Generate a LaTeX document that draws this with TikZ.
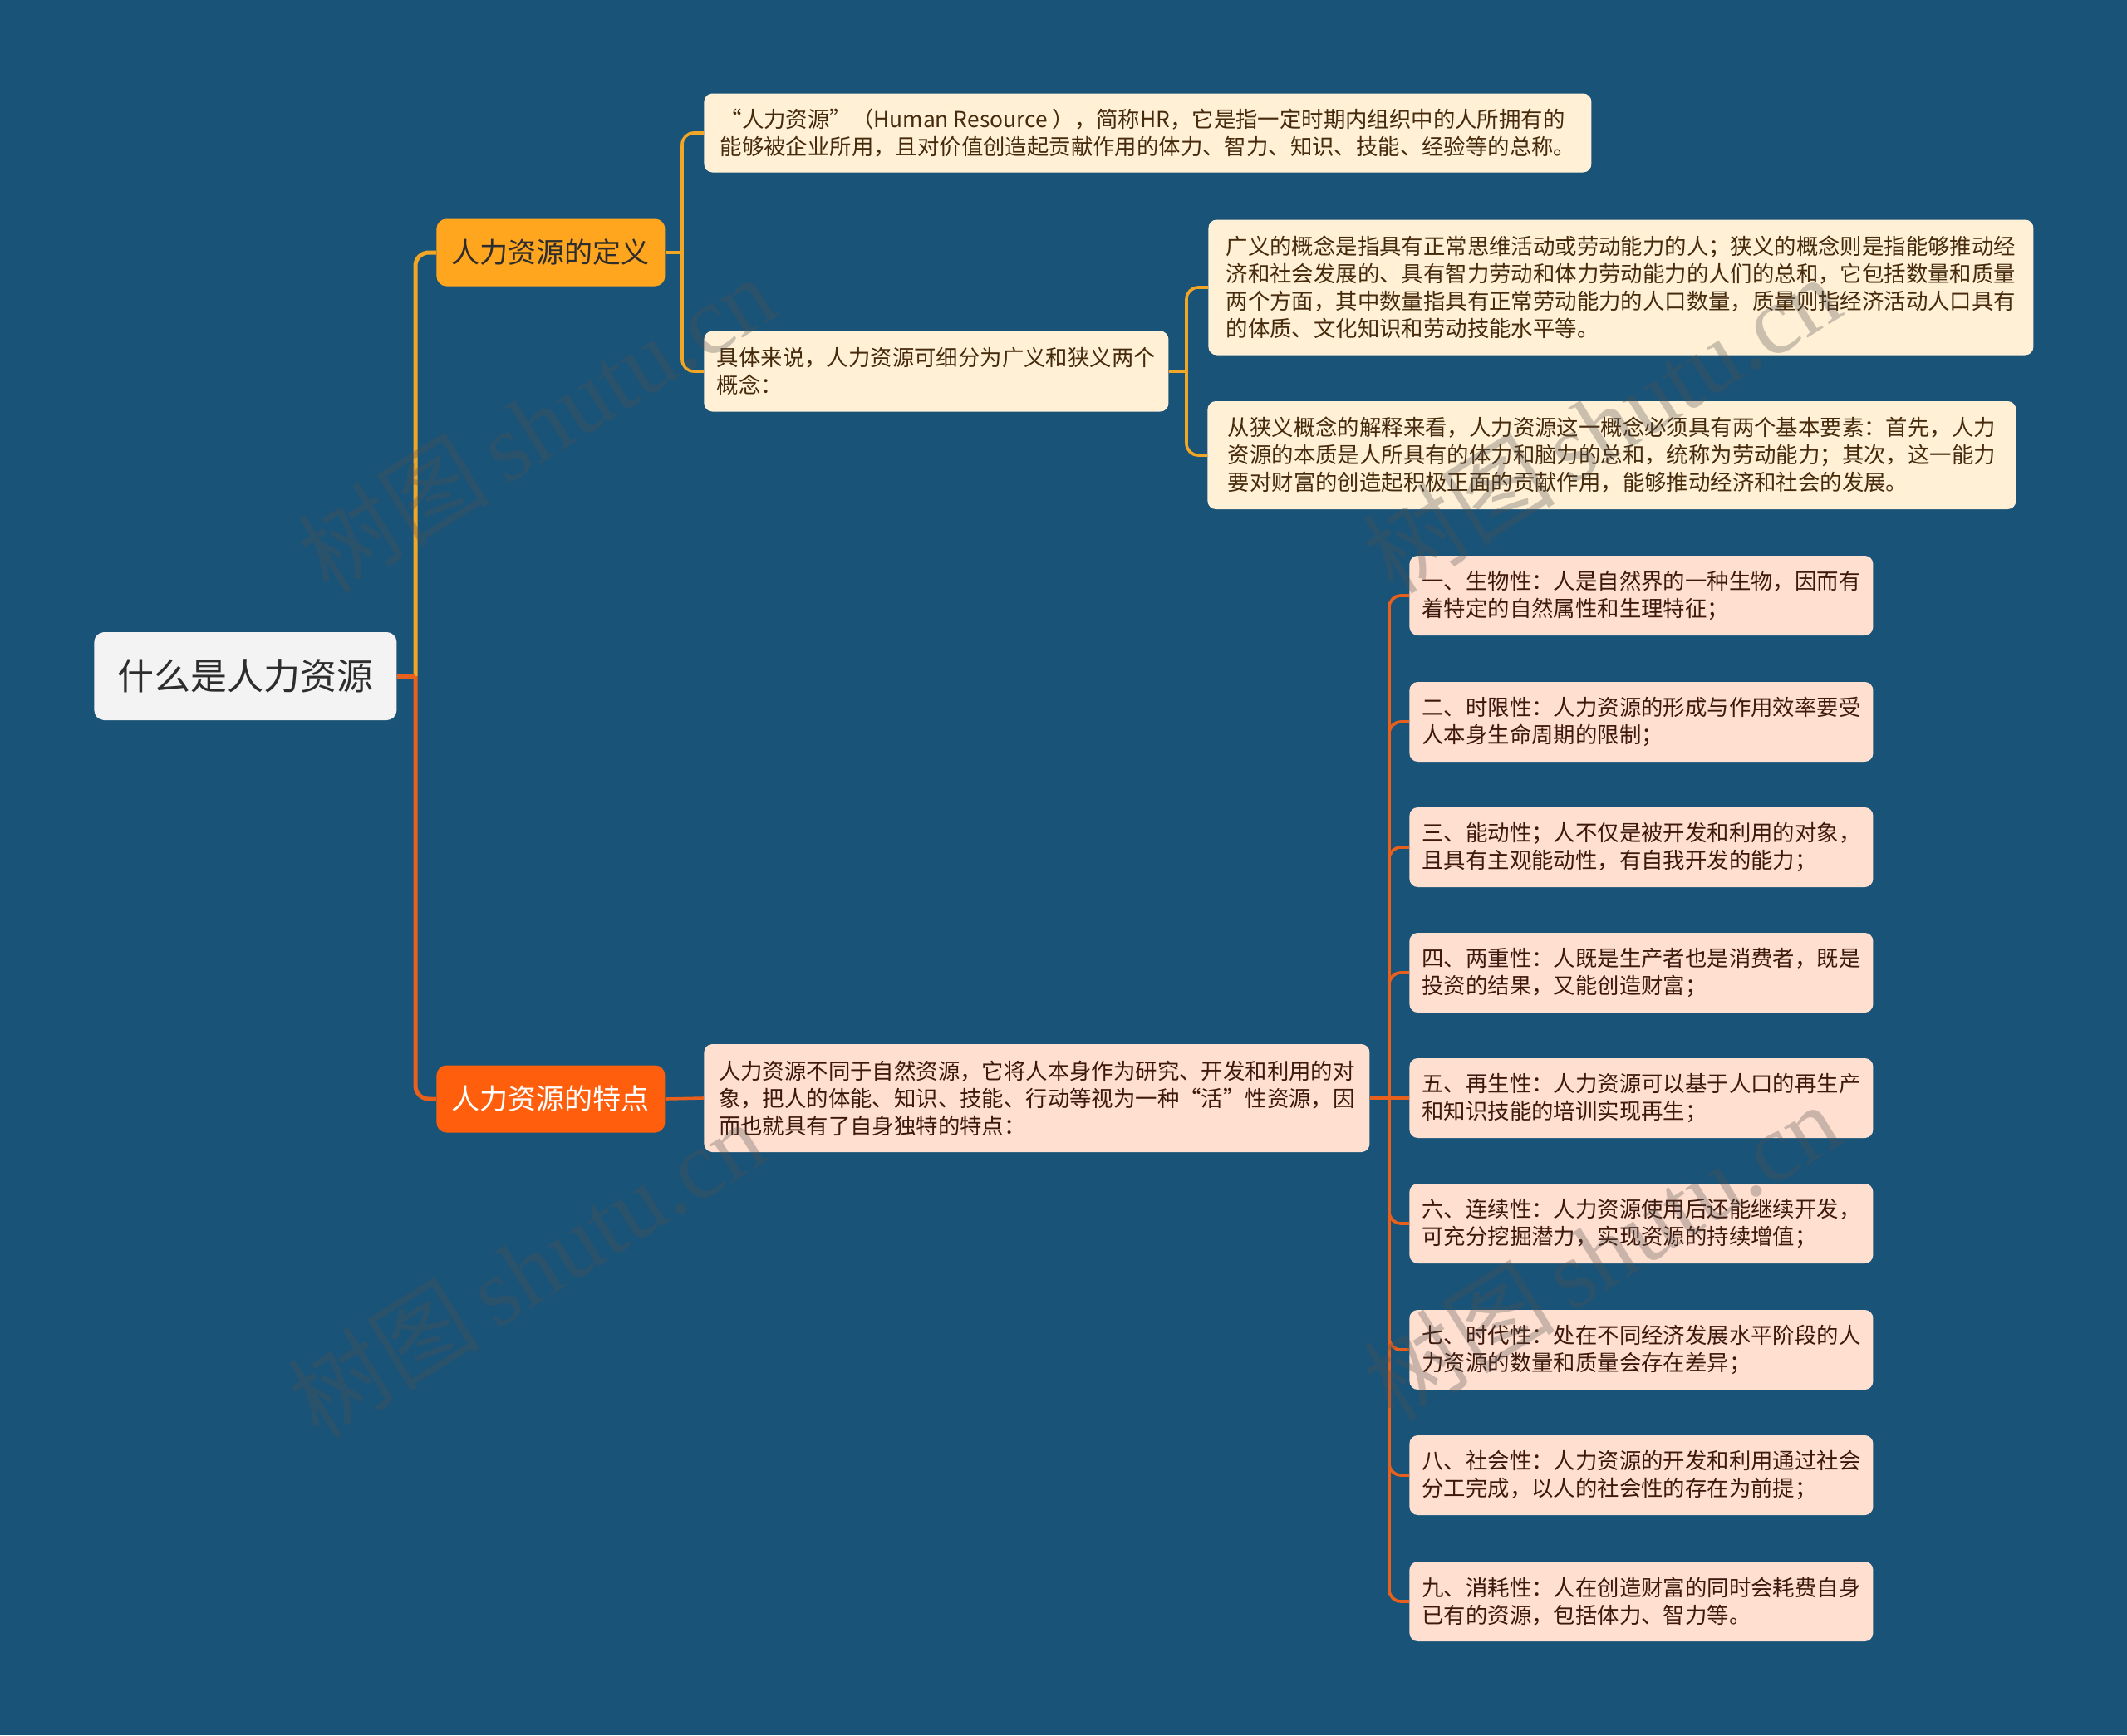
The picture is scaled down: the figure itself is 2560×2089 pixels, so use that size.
\documentclass[tikz,border=0pt]{standalone}
\usepackage{fontspec}
\newfontfamily\cjk{Noto Sans CJK SC}
\newfontfamily\wmserif{Liberation Serif}
\definecolor{bg}{RGB}{26,83,120}
\definecolor{rootfill}{RGB}{243,243,243}
\definecolor{roottext}{RGB}{45,45,45}
\definecolor{amber}{RGB}{255,166,30}
\definecolor{amberline}{RGB}{242,166,38}
\definecolor{redor}{RGB}{255,94,12}
\definecolor{redline}{RGB}{232,96,28}
\definecolor{creamfill}{RGB}{255,240,214}
\definecolor{creamtext}{RGB}{70,42,12}
\definecolor{peachfill}{RGB}{255,224,208}
\definecolor{peachtext}{RGB}{62,24,12}
\definecolor{wmcol}{RGB}{80,80,80}
\tikzset{
  box/.style={rounded corners=5pt, inner sep=0pt, anchor=west, align=left},
  rootbox/.style={box, rounded corners=6pt, fill=rootfill, text=roottext, align=center,
    font=\cjk\fontsize{22}{26}\selectfont, minimum width=182pt, minimum height=53pt},
  branchA/.style={box, rounded corners=6pt, fill=amber, text=roottext, align=center,
    font=\cjk\fontsize{17}{20}\selectfont, minimum width=137.5pt, minimum height=40.5pt},
  branchB/.style={box, rounded corners=6pt, fill=redor, text=white, align=center,
    font=\cjk\fontsize{17}{20}\selectfont, minimum width=137.5pt, minimum height=40.5pt},
  leafA/.style={box, fill=creamfill, text=creamtext, font=\cjk\fontsize{13.2}{16.5}\selectfont},
  leafB/.style={box, fill=peachfill, text=peachtext, font=\cjk\fontsize{13.2}{16.5}\selectfont},
  item/.style={leafB, minimum width=279pt, minimum height=48pt},
  trunkA/.style={draw=amberline, line width=2.5pt, rounded corners=8pt},
  trunkB/.style={draw=redline, line width=2.5pt, rounded corners=8pt},
  subA/.style={draw=amberline, line width=1.8pt, rounded corners=7pt},
  subB/.style={draw=redline, line width=1.8pt, rounded corners=7pt},
  wm/.style={text=wmcol, opacity=0.3, rotate=32, inner sep=0pt}
}
\begin{document}
\begin{tikzpicture}[x=0.5pt, y=-0.5pt]
\useasboundingbox (0,0) rectangle (2560,2089);
\fill[bg] (0,0) rectangle (2560,2089);

% nodes
\node[rootbox] (root) at (113,814) {什么是人力资源};
\node[branchA] (b1) at (525,304) {人力资源的定义};
\node[branchB] (b2) at (525,1323) {人力资源的特点};

\node[leafA, minimum width=534pt, minimum height=47.5pt] (la) at (847,160)
  {“人力资源”（Human Resource ），简称HR，它是指一定时期内组织中的人所拥有的\\能够被企业所用，且对价值创造起贡献作用的体力、智力、知识、技能、经验等的总称。};
\node[leafA, minimum width=279.5pt, minimum height=48.5pt] (lb) at (847,447)
  {具体来说，人力资源可细分为广义和狭义两个\\概念：};
\node[leafA, minimum width=496.5pt, minimum height=81.5pt] (lc) at (1454,346)
  {广义的概念是指具有正常思维活动或劳动能力的人；狭义的概念则是指能够推动经\\济和社会发展的、具有智力劳动和体力劳动能力的人们的总和，它包括数量和质量\\两个方面，其中数量指具有正常劳动能力的人口数量，质量则指经济活动人口具有\\的体质、文化知识和劳动技能水平等。};
\node[leafA, minimum width=486.5pt, minimum height=65pt] (ld) at (1453,548)
  {从狭义概念的解释来看，人力资源这一概念必须具有两个基本要素：首先，人力\\资源的本质是人所具有的体力和脑力的总和，统称为劳动能力；其次，这一能力\\要对财富的创造起积极正面的贡献作用，能够推动经济和社会的发展。};
\node[leafB, minimum width=400.5pt, minimum height=65pt] (le) at (847,1322)
  {人力资源不同于自然资源，它将人本身作为研究、开发和利用的对\\象，把人的体能、知识、技能、行动等视为一种“活”性资源，因\\而也就具有了自身独特的特点：};

\node[item] (r1) at (1696,717) {一、生物性：人是自然界的一种生物，因而有\\着特定的自然属性和生理特征；};
\node[item] (r2) at (1696,869) {二、时限性：人力资源的形成与作用效率要受\\人本身生命周期的限制；};
\node[item] (r3) at (1696,1020) {三、能动性；人不仅是被开发和利用的对象，\\且具有主观能动性，有自我开发的能力；};
\node[item] (r4) at (1696,1171) {四、两重性：人既是生产者也是消费者，既是\\投资的结果，又能创造财富；};
\node[item] (r5) at (1696,1322) {五、再生性：人力资源可以基于人口的再生产\\和知识技能的培训实现再生；};
\node[item] (r6) at (1696,1473) {六、连续性：人力资源使用后还能继续开发，\\可充分挖掘潜力，实现资源的持续增值；};
\node[item] (r7) at (1696,1625) {七、时代性：处在不同经济发展水平阶段的人\\力资源的数量和质量会存在差异；};
\node[item] (r8) at (1696,1776) {八、社会性：人力资源的开发和利用通过社会\\分工完成，以人的社会性的存在为前提；};
\node[item] (r9) at (1696,1928) {九、消耗性：人在创造财富的同时会耗费自身\\已有的资源，包括体力、智力等。};

% junctions
\coordinate (j0) at (500,814);
\coordinate (j1) at (821,304);
\coordinate (j2) at (1428,447);
\coordinate (j3) at (1672,1322);

% connectors
\path[trunkA] (j0) |- (b1.west);
\path[trunkB] (j0) |- (b2.west);
\path[trunkB] (root.east) -- (j0);

\path[subA] (b1.east) -- (j1);
\path[subA] (j1) |- (la.west);
\path[subA] (j1) |- (lb.west);
\path[subA] (lb.east) -- (j2);
\path[subA] (j2) |- (lc.west);
\path[subA] (j2) |- (ld.west);

\path[subB] (b2.east) -- (le.west);
\path[subB] (le.east) -- (j3);
\foreach \r in {r1,r2,r3,r4,r6,r7,r8,r9} { \path[subB] (j3) |- (\r.west); }
\path[subB] (j3) -- (r5.west);

% watermarks
\foreach \p in {(645,510),(633,1527),(1927,510),(1927,1506)} {
  \node[wm] at \p {\cjk\fontsize{58}{60}\selectfont 树图\,\wmserif shutu.cn};
}
\end{tikzpicture}
\end{document}
